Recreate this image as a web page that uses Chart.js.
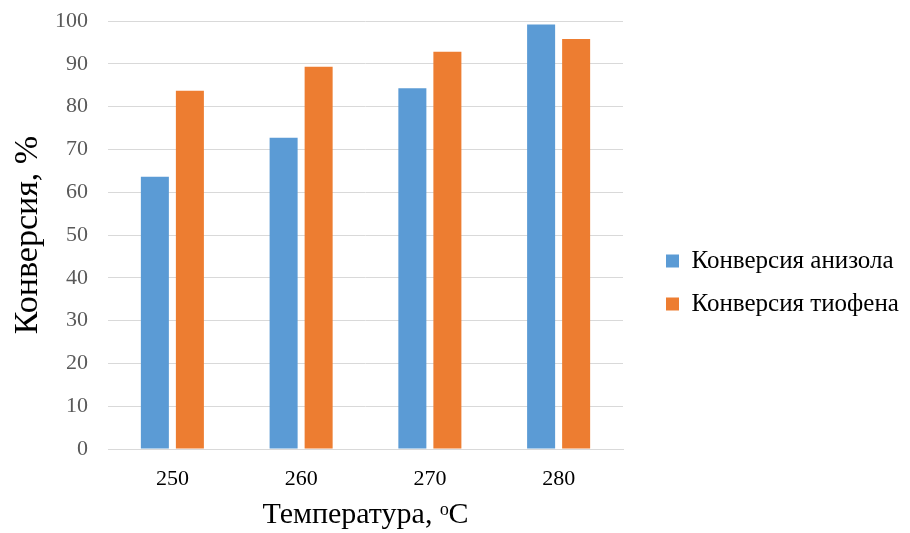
<!DOCTYPE html>
<html>
<head>
<meta charset="utf-8">
<script src="https://cdn.jsdelivr.net/npm/chart.js@4/dist/chart.umd.min.js"></script>
<style>
    html, body { margin: 0; padding: 0; background: #fff; }
    #wrap { width: 910px; height: 533px; }
</style>
</head>
<body>
<div id="wrap"><canvas id="chart" width="910" height="533"></canvas></div>
<script>
const temperatures = ['250', '260', '270', '280'];
const anisoleConversion = [63.6, 72.7, 84.3, 99.2];
const thiopheneConversion = [83.7, 89.3, 92.8, 95.8];
const seriesNames = ['Конверсия анизола', 'Конверсия тиофена'];

const serif = "'Liberation Serif', 'Times New Roman', serif";

// place the legend box where Excel had it (further right and lower)
const legendShift = {
    id: 'legendShift',
    afterLayout(chart) {
        const lg = chart.legend;
        if (!lg) return;
        lg.left = chart.chartArea.right + 25;
        lg.right = chart.width;
        lg.width = lg.right - lg.left;
        lg.top += 16;
        lg.bottom += 16;
    }
};

const ctx = document.getElementById('chart').getContext('2d');
const chart = new Chart(ctx, {
    type: 'bar',
    data: {
        labels: temperatures,
        datasets: [
            {
                label: seriesNames[0],
                data: anisoleConversion,
                backgroundColor: '#5b9bd5',
                categoryPercentage: 0.544,
                barPercentage: 0.8
            },
            {
                label: seriesNames[1],
                data: thiopheneConversion,
                backgroundColor: '#ed7d31',
                categoryPercentage: 0.544,
                barPercentage: 0.8
            }
        ]
    },
    options: {
        responsive: false,
        animation: false,
        layout: {
            padding: { left: 8, right: 87, top: 0, bottom: 0 }
        },
        plugins: {
            tooltip: { enabled: false },
            legend: {
                position: 'right',
                maxWidth: 200,
                labels: {
                    font: { family: serif, size: 25 },
                    color: '#000',
                    boxWidth: 13,
                    boxHeight: 13,
                    padding: 18
                }
            }
        },
        scales: {
            x: {
                grid: { display: false },
                border: { display: true, color: '#d9d9d9' },
                ticks: {
                    font: { family: serif, size: 22 },
                    color: '#000',
                    padding: 9
                },
                title: {
                    display: true,
                    text: 'Температура, ᵒC',
                    font: { family: serif, size: 30 },
                    color: '#000',
                    padding: { top: 0, bottom: 0 }
                },
                afterFit(scale) {
                    scale.height = 84;
                }
            },
            y: {
                min: 0,
                max: 100,
                ticks: {
                    stepSize: 10,
                    font: { family: serif, size: 22 },
                    color: '#595959',
                    padding: 20
                },
                grid: { color: '#d9d9d9', drawTicks: false },
                border: { display: false },
                title: {
                    display: true,
                    text: 'Конверсия, %',
                    font: { family: serif, size: 34 },
                    color: '#000',
                    padding: { top: 0, bottom: 0 }
                },
                afterFit(scale) {
                    scale.width = 100;
                    scale.paddingTop = 21;
                }
            }
        }
    },
    plugins: [legendShift]
});
</script>
</body>
</html>
